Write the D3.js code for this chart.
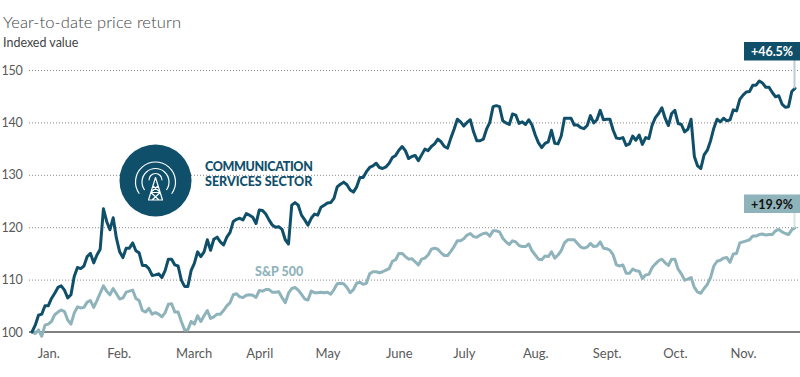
<!DOCTYPE html>
<html>
<head>
<meta charset="utf-8">
<script src="https://cdn.jsdelivr.net/npm/d3@7"></script>
<style>
  html, body { margin: 0; padding: 0; background: #fff; }
  svg { display: block; font-family: Lato, sans-serif; }
  .domain { display: none; }
</style>
</head>
<body>
<div id="chart"></div>
<script>
// one value per trading session
const sectorValues = [
  100.0,101.3,103.2,103.4,105.0,105.0,106.4,107.4,108.5,108.8,108.0,106.5,107.1,110.6,112.3,112.1,112.6,114.4,115.0,113.2,
  114.7,115.8,123.5,121.1,119.5,121.8,117.9,115.3,114.2,116.0,116.0,117.0,115.5,115.1,112.7,112.7,112.1,110.8,110.9,111.1,
  110.4,111.7,113.9,113.9,112.8,112.6,109.9,108.7,108.7,111.7,113.1,115.3,114.4,115.3,117.6,115.6,117.7,118.1,117.2,116.6,
  118.1,119.0,121.1,121.5,121.7,121.4,122.6,122.3,121.9,120.7,123.3,123.2,122.5,121.4,120.4,120.0,120.1,119.6,117.6,116.8,
  124.2,124.7,124.2,122.3,121.4,120.4,121.7,122.5,122.3,123.8,124.2,124.6,124.7,125.5,127.7,128.2,128.6,128.1,127.1,126.7,
  127.7,129.5,129.5,130.6,131.4,131.7,132.2,131.4,131.2,131.5,132.2,133.3,133.7,134.7,135.4,134.6,133.1,133.5,133.7,132.7,
  133.8,134.9,134.6,135.4,135.9,136.8,136.3,135.4,135.1,137.0,138.7,140.6,140.1,139.3,140.0,140.5,138.2,136.5,136.5,136.8,
  138.7,140.0,143.0,143.2,143.0,140.3,139.9,139.6,141.6,141.4,139.8,140.1,139.6,140.5,139.5,137.6,136.1,135.2,136.0,136.3,
  138.5,136.0,135.9,137.4,140.8,140.8,140.8,139.5,139.5,139.0,138.8,139.4,141.3,139.9,140.5,142.3,140.5,140.6,140.6,138.5,
  137.0,136.9,137.1,135.6,135.9,137.4,136.6,137.6,135.8,137.1,136.9,139.5,140.9,141.7,142.8,140.8,139.4,141.7,142.3,139.8,
  139.6,138.2,138.7,140.6,133.5,131.7,131.2,133.8,134.7,136.5,138.9,140.6,140.1,140.8,140.3,140.5,142.4,142.2,144.4,145.2,
  145.8,145.9,147.1,147.1,147.9,147.5,146.7,146.7,145.7,144.9,145.1,143.5,142.9,143.0,145.9,146.5
];
const spValues = [
  100.0,99.7,100.4,99.2,101.3,101.5,102.0,103.3,103.8,104.2,103.9,102.3,101.5,103.6,104.8,104.6,104.7,105.7,106.0,104.7,
  106.0,107.4,108.8,107.8,107.1,108.3,107.3,106.3,106.5,107.6,107.8,108.0,106.4,106.0,104.1,103.8,104.5,103.4,103.7,103.4,
  102.9,103.7,105.3,105.4,103.8,103.8,102.0,100.4,100.4,102.0,101.5,103.1,102.0,103.1,104.1,102.6,102.9,103.4,103.4,104.1,
  105.0,105.6,107.1,107.3,106.7,106.6,107.0,107.1,107.0,106.6,107.9,107.8,108.1,108.1,107.6,107.6,107.7,106.6,105.6,107.4,
  108.3,108.5,108.0,107.2,106.3,106.1,107.8,107.5,107.5,107.6,107.5,107.6,107.2,108.1,109.2,109.3,109.2,108.5,107.5,108.1,
  109.3,109.5,109.1,109.3,111.1,111.5,111.5,111.3,111.5,111.8,112.1,113.5,113.8,115.0,115.0,114.4,113.9,114.0,113.4,112.8,
  113.9,114.1,114.7,115.8,116.0,115.8,115.1,114.6,114.6,115.4,116.3,117.4,117.4,117.8,118.5,118.8,118.2,118.1,118.5,118.8,
  118.9,118.3,119.3,119.3,119.1,117.9,117.2,116.7,117.4,117.2,116.5,116.3,116.3,116.8,115.5,114.7,113.9,113.8,114.5,114.4,
  115.3,114.1,114.7,115.5,117.0,117.6,117.6,117.6,116.9,116.2,116.0,116.2,116.9,116.3,116.4,117.2,116.0,115.9,115.6,114.7,
  112.8,112.6,112.8,111.2,111.2,112.0,111.7,111.6,110.2,110.9,111.0,112.3,113.0,113.6,113.9,113.2,112.7,113.9,113.9,112.0,
  111.1,109.9,110.1,110.4,108.5,107.6,107.4,108.3,109.1,110.4,112.6,113.5,113.7,114.1,114.2,113.3,114.9,115.0,117.0,117.2,
  117.4,117.6,118.3,118.3,118.6,118.7,118.5,118.6,118.6,119.3,119.6,119.1,118.8,118.6,119.5,119.9
];
const monthLabels = ["Jan.","Feb.","March","April","May","June","July","Aug.","Sept.","Oct.","Nov."];
const monthSessions = [5, 26.7, 49.8, 70, 91, 113, 133, 155, 177, 198, 219];
const yTicks = [100, 110, 120, 130, 140, 150];

const w = 800, h = 377;
const sectorColor = "#0f4f6a", spColor = "#8fb3ba", textColor = "#595959";

const x = d3.scaleLinear().domain([0, sectorValues.length - 1]).range([32, 795]);
const y = d3.scaleLinear().domain([100, 150]).range([332, 70]);

const svg = d3.select("#chart").append("svg").attr("width", w).attr("height", h);

// titles
svg.append("text").attr("x", 3).attr("y", 28).attr("font-size", 16.5).attr("font-weight", 300).attr("letter-spacing", 0.1).attr("fill", "#444").text("Year-to-date price return");
svg.append("text").attr("x", 3).attr("y", 47).attr("font-size", 12.5).attr("fill", "#444").text("Indexed value");

// y axis + dotted gridlines
const yAxis = d3.axisLeft(y).tickValues(yTicks).tickSize(0);
const gy = svg.append("g").attr("transform", "translate(29,0)").call(yAxis);
gy.selectAll("text").attr("font-size", 12.5).attr("font-family", "Lato, sans-serif").attr("fill", textColor)
  .attr("text-anchor", "start").attr("x", -27.5).attr("letter-spacing", -0.3);
gy.selectAll(".tick").filter(d => d > 100).append("line")
  .attr("x1", 0).attr("x2", w - 29)
  .attr("stroke", "#888").attr("stroke-width", 1).attr("stroke-dasharray", "1,2");

// x axis, labels only
const xAxis = d3.axisBottom(x).tickValues(monthSessions)
  .tickFormat((d, i) => monthLabels[i]).tickSize(0).tickPadding(17);
const gx = svg.append("g").attr("transform", "translate(0," + y(100) + ")").call(xAxis);
gx.selectAll("text").attr("font-size", 13).attr("font-family", "Lato, sans-serif").attr("fill", textColor);

svg.append("line").attr("x1", 29).attr("x2", w).attr("y1", y(100)).attr("y2", y(100))
  .attr("stroke", "#808080").attr("stroke-width", 2);

// series
const line = d3.line().x((d, i) => x(i)).y(d => y(d));
function drawSeries(values, color) {
  svg.append("path").datum(values).attr("d", line)
    .attr("fill", "none").attr("stroke", color).attr("stroke-width", 3)
    .attr("stroke-linejoin", "round").attr("stroke-linecap", "round");
}
drawSeries(spValues, spColor);
drawSeries(sectorValues, sectorColor);

// end callouts
function callout(value, text, boxY, fill, stemColor, textFill) {
  const last = x(sectorValues.length - 1);
  svg.append("line").attr("x1", last - 0.5).attr("x2", last - 0.5).attr("y1", boxY + 18).attr("y2", y(value))
    .attr("stroke", stemColor).attr("stroke-width", 2);
  svg.append("rect").attr("x", 744).attr("y", boxY).attr("width", 56).attr("height", 18.5).attr("fill", fill);
  svg.append("text").attr("x", 772).attr("y", boxY + 14).attr("text-anchor", "middle")
    .attr("font-size", 12.5).attr("font-weight", 700).attr("fill", textFill).text(text);
}
callout(sectorValues[sectorValues.length - 1], "+46.5%", 42, sectorColor, "#b9ced6", "#fff");
callout(spValues[spValues.length - 1], "+19.9%", 194.5, spColor, "#d6e4e6", "#111");

// sector badge
const badge = svg.append("g").attr("transform", "translate(155.5,180.5)");
badge.append("circle").attr("r", 36).attr("fill", sectorColor);
[[6.5, -0.5, 1.6], [13.5, 1.5, 2.2], [20, 1.5, 2.2]].forEach(function(a) {
  badge.append("path")
    .attr("d", d3.arc().innerRadius(a[0]).outerRadius(a[0]).startAngle(-a[2]).endAngle(a[2])())
    .attr("transform", "translate(0," + a[1] + ")")
    .attr("fill", "none").attr("stroke", "#fff").attr("stroke-width", 1.2);
});
badge.append("path")
  .attr("d", "M0,-3L-7,19.5H7ZM-4.6,12L3.5,19.5M4.6,12L-3.5,19.5M-4.6,12H4.6M-2.5,5.5L3.8,11M2.5,5.5L-3.8,11")
  .attr("fill", "none").attr("stroke", "#fff").attr("stroke-width", 1.2).attr("stroke-linejoin", "round");

// series labels
svg.append("text").attr("x", 205).attr("y", 171).attr("font-size", 12.5).attr("font-weight", 900).attr("letter-spacing", -0.35).attr("fill", sectorColor).text("COMMUNICATION");
svg.append("text").attr("x", 205).attr("y", 185.5).attr("font-size", 12.5).attr("font-weight", 900).attr("fill", sectorColor).text("SERVICES SECTOR");
svg.append("text").attr("x", 255).attr("y", 276).attr("font-size", 12.5).attr("font-weight", 900).attr("fill", spColor).text("S&P 500");
</script>
</body>
</html>
